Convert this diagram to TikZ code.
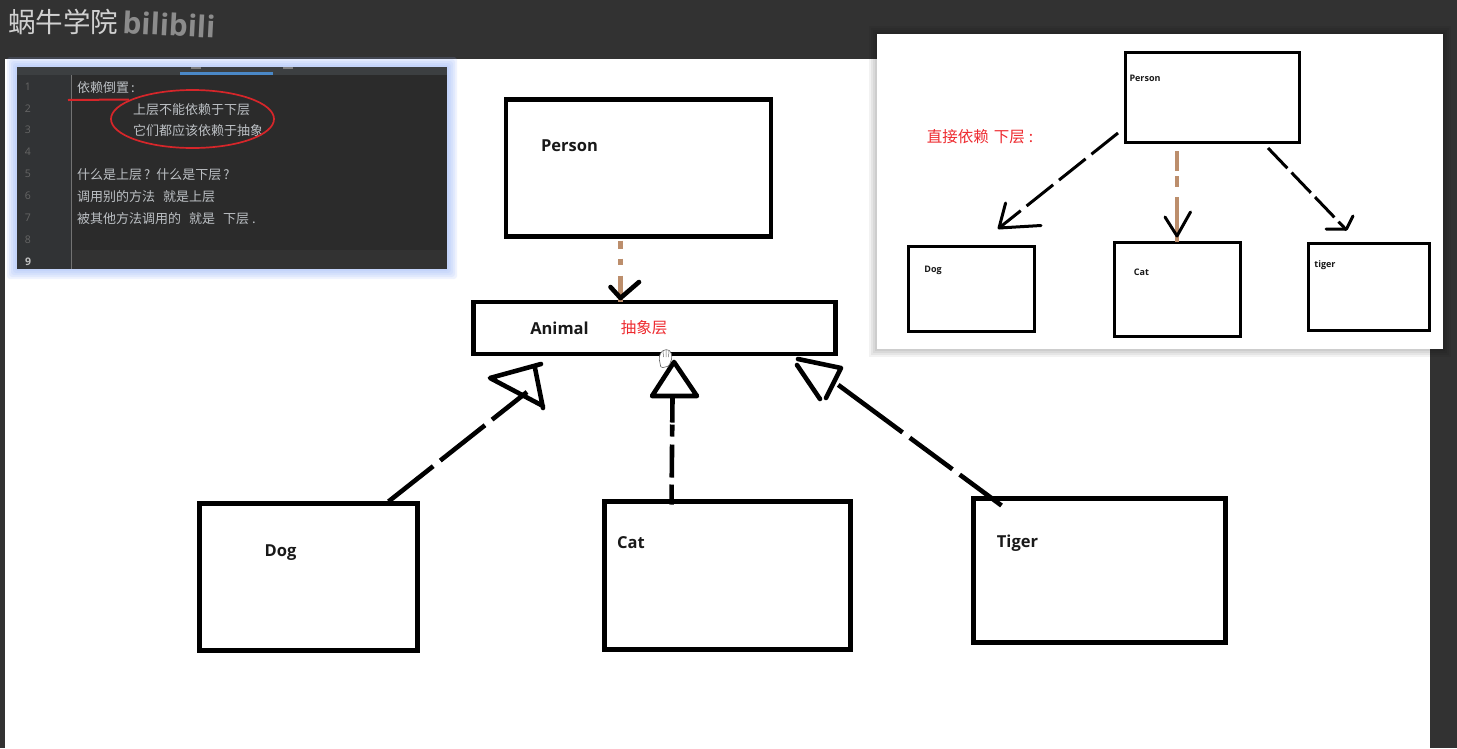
\documentclass[tikz,border=0pt]{standalone}
\usepackage{fontspec}
\setmainfont{Open Sans}
\newfontfamily\cjk{Noto Sans CJK SC}
\usepackage{xcolor}
\definecolor{winbg}{HTML}{323232}
\definecolor{edbg}{HTML}{2B2B2B}
\definecolor{edtext}{HTML}{BCC0C4}
\definecolor{edgutter}{HTML}{313335}
\definecolor{edtab}{HTML}{3C3F41}
\definecolor{tabblue}{HTML}{4A88C7}
\definecolor{glow}{HTML}{9DB8FA}
\definecolor{depbrown}{HTML}{BC8E6C}
\definecolor{notered}{HTML}{EE2A2F}
\usetikzlibrary{positioning,calc,shapes.geometric}
\tikzset{
  cls/.style   ={rectangle, draw=black, line width=4.6pt, fill=white, inner sep=0pt, outer sep=0pt},
  minicls/.style={rectangle, draw=black, line width=3pt, fill=white, inner sep=0pt, outer sep=0pt},
  lbl/.style   ={font=\bfseries\fontsize{16.5}{20}\selectfont, inner sep=0pt, text=black!90},
  minilbl/.style={font=\bfseries\fontsize{9}{11}\selectfont, inner sep=0pt, text=black!90},
  redtxt/.style={font=\cjk\fontsize{15.5}{18}\selectfont, inner sep=0pt, text=notered},
  edline/.style={font=\cjk\fontsize{13}{15}\selectfont, inner sep=0pt, anchor=west, text=edtext},
  ednum/.style ={font=\fontsize{10.5}{12}\selectfont, inner sep=0pt},
  impl/.style  ={line width=4.6pt, draw=black},
  thin impl/.style={line width=3pt, draw=black},
  brown dep/.style={draw=depbrown},
}

\begin{document}
\begin{tikzpicture}[x=1pt,y=-1pt]
  \useasboundingbox (0,0) rectangle (1457,748);
  % window and page
  \fill[winbg] (0,0) rectangle (1457,748);
  \fill[white] (5,59) rectangle (1430,748);
  \node[font=\cjk\fontsize{27.5}{30}\selectfont, text=black!18, inner sep=0pt, anchor=west] (school) at (8,22) {蜗牛学院};
  \node[font=\bfseries\fontsize{30}{32}\selectfont, text=black!45, inner sep=0pt, anchor=west, rotate=-3, right=4pt of school] (site) {bilibili};

  % editor
  \foreach \w in {10,8,6,4,2}
    \fill[glow, opacity=.16, rounded corners=3pt] (17-\w,67-\w) rectangle (447+\w,269+\w);
  \fill[edbg] (17,67) rectangle (447,269);
  \fill[edgutter] (17,75) rectangle (71,269);
  \fill[winbg] (71,250) rectangle (447,269);
  \fill[edtab] (17,67) rectangle (447,75);
  \fill[tabblue] (180,72) rectangle (273,75);
  \fill[black!50] (191,67) rectangle (201,68.5);
  \fill[black!50] (283,67) rectangle (293,68.5);
  \draw[black!55] (71.5,75) -- (71.5,269);
  \foreach \n/\y in {1/87,2/109,3/130,4/152,5/174,6/196,7/218,8/240}
    \node[ednum, text=black!60] (num\n) at (28,\y) {\n};
  \node[ednum, text=black!25] (num9) at (28,262) {\textbf{9}};
  \node[edline] (t1) at (77,87.5) {依赖倒置\hspace{2pt}:};
  \node[edline] (t2) at (133,109.5) {上层不能依赖于下层};
  \node[edline] (t3) at (133,131) {它们都应该依赖于抽象};
  \node[edline] (t5) at (77,175) {什么是上层\hspace{2pt}?\hspace{6pt}什么是下层\hspace{2pt}?};
  \node[edline] (t6) at (77,197) {调用别的方法\hspace{8pt}就是上层};
  \node[edline] (t7) at (77,219) {被其他方法调用的\hspace{8pt}就是\hspace{8pt}下层\hspace{3pt}.};
  \coordinate (ul1) at (68,100);
  \coordinate (ul2) at (129,99.5);
  \draw[notered!90!black, line width=2pt] (ul1) -- (ul2);
  \node[ellipse, draw=notered!90!black, line width=1.7pt, minimum width=163pt, minimum height=58pt, inner sep=0pt] (ring) at (192.5,119) {};

  % main diagram
  \node[cls, minimum width=265pt, minimum height=137pt] (person) at (638.5,168) {};
  \node[cls, minimum width=362pt, minimum height=52pt] (animal) at (654.5,328) {};
  \node[cls, minimum width=218pt, minimum height=147pt] (dog) at (308.5,577) {};
  \node[cls, minimum width=246pt, minimum height=148pt] (cat) at (727.5,575.5) {};
  \node[cls, minimum width=252pt, minimum height=144pt] (tiger) at (1099.5,570.5) {};
  \node[lbl] (personl) at (569.5,146) {Person};
  \node[lbl] (animall) at (559.5,328.5) {Animal};
  \node[redtxt] (animaln) at (644,327.5) {抽象层};
  \node[lbl] (dogl) at (280.5,553) {Dog};
  \node[lbl] (catl) at (631,543) {Cat};
  \node[lbl] (tigerl) at (1017.5,543) {Tiger};

  \draw[brown dep, line width=5pt, dash pattern=on 8pt off 10pt on 6pt off 11pt on 30pt] (person.south -| 620.5,0) ++(0,4) -- (animal.north -| 620.5,0);
  \draw[impl, line cap=round, line join=round] (610.5,287) -- (620.5,298) -- (639,282);

  \draw[impl, dash pattern=on 57pt off 9pt] ($(dog.north east)+(-29,-2)$) -- (527,392);
  \draw[impl, line cap=round, line join=round] (541,364) -- (490,378) -- (543,406) (535,368) -- (543,408);

  \draw[impl, dash pattern=on 20pt off 7pt on 33pt off 8pt on 12pt off 2pt on 30pt] ($(cat.north west)+(67,3)$) -- (672.5,398);
  \draw[impl, line cap=round, line join=round] (652,396) -- (674,362) -- (697,396) -- cycle;

  \draw[impl, dash pattern=on 52pt off 9pt on 53pt off 9pt on 80pt] ($(tiger.north west)+(28,7)$) -- (837,384);
  \draw[impl, line cap=round, line join=round] (798,359) -- (841,368) -- (826,398) (797,365) -- (820,399);

  % hand cursor
  \fill[white, draw=black!60, line width=.6pt, rounded corners=1.5pt] (661,368) -- (659,358) -- (661,352) -- (664,350) -- (668,349.5) -- (671,352) -- (672,358) -- (669,366) -- cycle;
  \draw[black!60, line width=.5pt] (663,351) -- (663.5,357) (666,350) -- (666,357) (669,351) -- (668.5,357);

  % inset
  \foreach \w in {8,6,4,2}
    \fill[black, opacity=.05] (877-\w,34-\w) rectangle (1443+\w,349+\w);
  \fill[white] (877,34) rectangle (1443,349);
  \node[minicls, minimum width=174pt, minimum height=90pt] (iperson) at (1212,97) {};
  \node[minicls, minimum width=126pt, minimum height=85pt] (idog) at (971,288.5) {};
  \node[minicls, minimum width=126pt, minimum height=94pt] (icat) at (1177,289) {};
  \node[minicls, minimum width=121pt, minimum height=87pt] (itiger) at (1368.5,286.5) {};
  \node[minilbl] (ipersonl) at (1145,78.5) {Person};
  \node[minilbl] (idogl) at (933,270.5) {Dog};
  \node[minilbl] (icatl) at (1141.5,272) {Cat};
  \node[minilbl] (itigerl) at (1325,265.5) {tiger};
  \node[redtxt, font=\cjk\fontsize{15.5}{18}\selectfont] (inote) at (980,136.5) {直接依赖\hspace{5pt}下层\hspace{4pt}:};

  \draw[thin impl, dash pattern=on 34pt off 7.5pt] ($(iperson.west)+(-7,36)$) -- (999,228);
  \draw[thin impl, line join=round, line cap=round] (1005.6,203) -- (999,228) -- (1041,225.5);

  \draw[brown dep, line width=3.2pt, dash pattern=on 20pt off 5pt on 11pt off 10pt on 50pt] ($(iperson.south)+(-35,9)$) -- (icat.north);
  \draw[thin impl, line join=round, line cap=round] (1165,217) -- (1177,236) -- (1190.5,212);

  \draw[thin impl, dash pattern=on 28pt off 6pt] ($(iperson.south east)+(-31,6)$) -- (1346.5,230);
  \draw[thin impl, line join=round, line cap=round] (1326,229) -- (1346.5,229) -- (1353,216);
\end{tikzpicture}
\end{document}
